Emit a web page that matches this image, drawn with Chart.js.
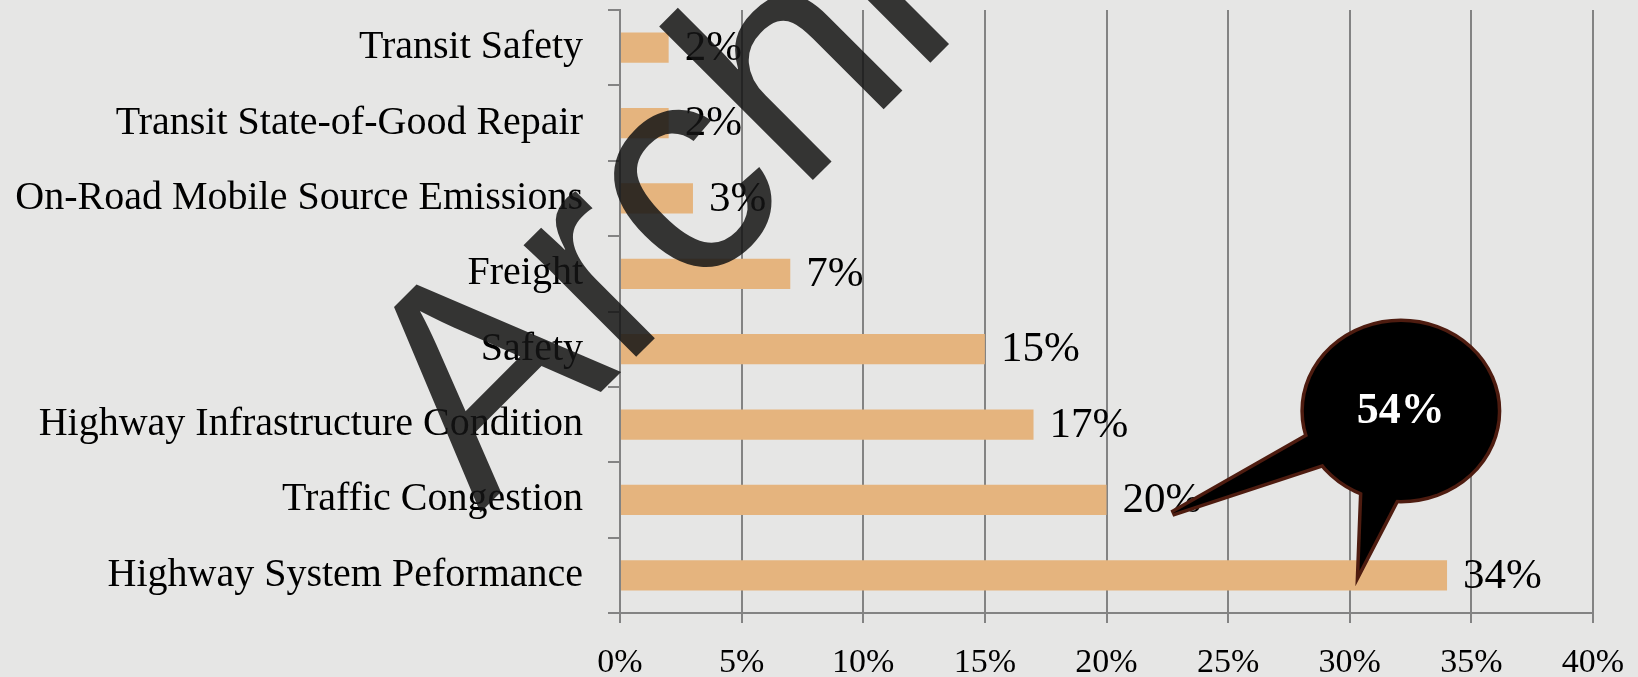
<!DOCTYPE html>
<html>
<head>
<meta charset="utf-8">
<script src="https://cdn.jsdelivr.net/npm/chart.js@4.4.1/dist/chart.umd.min.js"></script>
<style>
    html, body { margin: 0; padding: 0; background: #e6e6e5; }
    #wrap { width: 1638px; height: 677px; position: relative; }
</style>
</head>
<body>
<div id="wrap"><canvas id="chart" width="1638" height="677"></canvas></div>
<script>
// --- Data ---
const categories = [
    'Transit Safety',
    'Transit State-of-Good Repair',
    'On-Road Mobile Source Emissions',
    'Freight',
    'Safety',
    'Highway Infrastructure Condition',
    'Traffic Congestion',
    'Highway System Peformance',
];
const shares = [2, 2, 3, 7, 15, 17, 20, 34];
const xTicks = [0, 5, 10, 15, 20, 25, 30, 35, 40];

// callout: combined share of the two bottom bars
const calloutText = '54%';
const calloutCenter = [32.1, 4.82];          // [x value, category index]
const calloutTips = [[22.7, 6.18], [30.4, 6.94]];

const watermarkText = 'Archived';

const SERIF = "'Liberation Serif', 'Times New Roman', serif";
const GRID = '#838383';

// value labels at the end of each bar
const valueLabels = {
    id: 'valueLabels',
    afterDatasetsDraw(chart) {
        const ctx = chart.ctx;
        const meta = chart.getDatasetMeta(0);
        ctx.save();
        ctx.font = `43px ${SERIF}`;
        ctx.fillStyle = '#000';
        ctx.textAlign = 'left';
        ctx.textBaseline = 'middle';
        meta.data.forEach((bar, i) => {
            ctx.fillText(shares[i] + '%', bar.x + 16, bar.y + 1);
        });
        ctx.restore();
    }
};

// big rotated watermark + speech bubble
const overlay = {
    id: 'overlay',
    afterDraw(chart) {
        const ctx = chart.ctx;
        const xs = chart.scales.x, ys = chart.scales.y;

        ctx.save();
        ctx.translate(480, 513);
        ctx.rotate(-Math.PI / 4);
        ctx.font = "300px 'Liberation Sans', Arial, sans-serif";
        ctx.fillStyle = 'rgba(20,20,20,0.85)';
        ctx.strokeStyle = 'rgba(20,20,20,0.85)';
        ctx.lineWidth = 2;
        ctx.textBaseline = 'alphabetic';
        ctx.fillText(watermarkText, 0, 0);
        ctx.restore();

        const cx = xs.getPixelForValue(calloutCenter[0]);
        const cy = ys.getPixelForValue(calloutCenter[1]);
        const rx = 97, ry = 89;
        const tips = calloutTips.map(t => [xs.getPixelForValue(t[0]), ys.getPixelForValue(t[1])]);
        const baseAngles = [[164, 143], [114, 92]];
        const pt = deg => {
            const a = deg * Math.PI / 180;
            return [cx + Math.cos(a) * rx * 0.97, cy + Math.sin(a) * ry * 0.97];
        };
        const shapes = () => {
            const paths = [];
            const e = new Path2D();
            e.ellipse(cx, cy, rx, ry, 0, 0, Math.PI * 2);
            paths.push(e);
            tips.forEach((tip, i) => {
                const p = new Path2D();
                const a = pt(baseAngles[i][0]), b = pt(baseAngles[i][1]);
                p.moveTo(a[0], a[1]);
                p.lineTo(tip[0], tip[1]);
                p.lineTo(b[0], b[1]);
                p.closePath();
                paths.push(p);
            });
            return paths;
        };
        ctx.save();
        ctx.lineJoin = 'miter';
        ctx.strokeStyle = '#4e1c10';
        ctx.lineWidth = 7;
        shapes().forEach(p => ctx.stroke(p));
        ctx.fillStyle = '#000';
        shapes().forEach(p => ctx.fill(p));
        ctx.font = `bold 44px ${SERIF}`;
        ctx.fillStyle = '#fff';
        ctx.textAlign = 'center';
        ctx.textBaseline = 'middle';
        ctx.fillText(calloutText, cx, cy + 1);
        ctx.restore();
    }
};

new Chart(document.getElementById('chart'), {
    type: 'bar',
    data: {
        labels: categories,
        datasets: [{
            data: shares,
            backgroundColor: '#e5b47e',
            borderWidth: 0,
            categoryPercentage: 1,
            barPercentage: 0.4,
        }]
    },
    options: {
        indexAxis: 'y',
        responsive: false,
        animation: false,
        layout: { padding: { top: 10, right: 45, left: 0, bottom: 0 } },
        plugins: { legend: { display: false }, tooltip: { enabled: false } },
        scales: {
            x: {
                min: 0, max: 40,
                afterBuildTicks: s => { s.ticks = xTicks.map(v => ({ value: v })); },
                afterFit: s => { s.height = 64; s.paddingLeft = 0; s.paddingRight = 0; },
                grid: { color: GRID, lineWidth: 2, tickLength: 10 },
                border: { color: GRID, width: 2 },
                ticks: {
                    color: '#000', padding: 20, maxRotation: 0,
                    font: { family: SERIF, size: 34 },
                    callback: v => v + '%',
                },
            },
            y: {
                afterFit: s => { s.width = 620; s.paddingTop = 0; s.paddingBottom = 0; },
                grid: { drawOnChartArea: false, color: GRID, lineWidth: 2, tickLength: 12 },
                border: { color: GRID, width: 2 },
                ticks: {
                    color: '#000', padding: 25, autoSkip: false,
                    font: { family: SERIF, size: 40 },
                },
            }
        }
    },
    plugins: [valueLabels, overlay]
});
</script>
</body>
</html>
